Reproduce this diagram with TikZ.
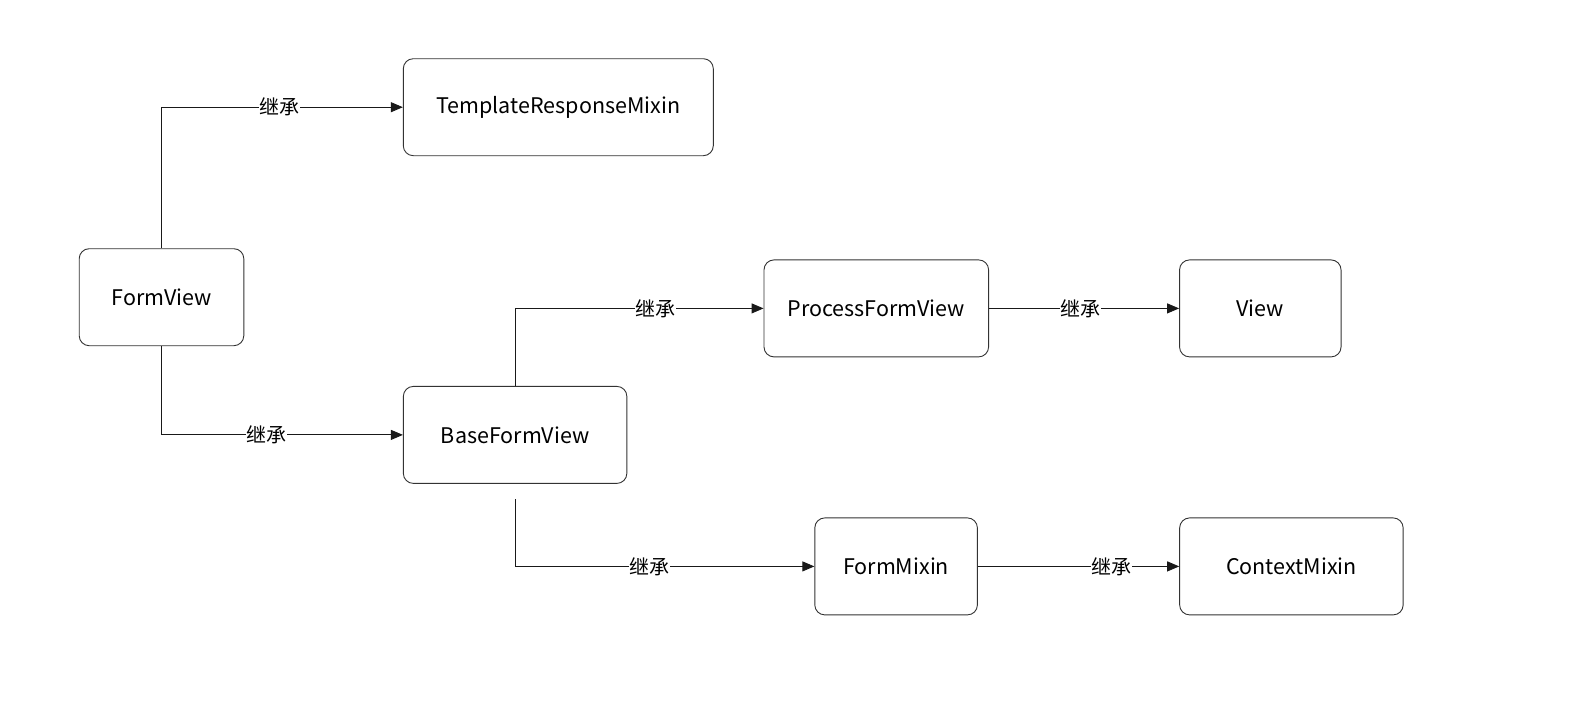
\documentclass[tikz,border=0pt]{standalone}
\usepackage{fontspec}
\setmainfont{Noto Sans CJK SC}
\usetikzlibrary{arrows.meta}
\begin{document}
\begin{tikzpicture}[x=1pt,y=-1pt,
  cls/.style={draw=black!80, line width=0.9pt, rounded corners=10pt, fill=white, minimum height=97pt, inner sep=0pt, font=\fontsize{21.5}{24}\selectfont, text=black},
  conn/.style={draw=black!90, line width=0.9pt, -{Triangle[length=12pt,width=10pt]}},
  lbl/.style={fill=white, inner sep=0.5pt, font=\fontsize{20}{22}\selectfont, text=black}
]
\useasboundingbox (0,0) rectangle (1593,712);
\node[cls, minimum width=310pt] (trm) at (558.3,107.2) {TemplateResponseMixin};
\node[cls, minimum width=164.6pt] (fv) at (161.5,297.2) {FormView};
\node[cls, minimum width=223.5pt] (bfv) at (515.1,434.9) {BaseFormView};
\node[cls, minimum width=224.6pt] (pfv) at (876.3,308.4) {ProcessFormView};
\node[cls, minimum width=161.5pt] (view) at (1260.3,308.4) {View};
\node[cls, minimum width=162.6pt] (fm) at (896.1,566.4) {FormMixin};
\node[cls, minimum width=223.5pt] (cm) at (1291.4,566.4) {ContextMixin};
\coordinate (bfvlow) at (515.1,499);

\draw[conn] (fv.north) |- node[lbl, pos=0.744] {继承} (trm.west);
\draw[conn] (fv.south) |- node[lbl, pos=0.717] {继承} (bfv.west);
\draw[conn] (bfv.north) |- node[lbl, pos=0.783] {继承} (pfv.west);
\draw[conn] (bfvlow) |- node[lbl, pos=0.725] {继承} (fm.west);
\draw[conn] (pfv.east) -- node[lbl, pos=0.479] {继承} (view.west);
\draw[conn] (fm.east) -- node[lbl, pos=0.666] {继承} (cm.west);
\end{tikzpicture}
\end{document}
